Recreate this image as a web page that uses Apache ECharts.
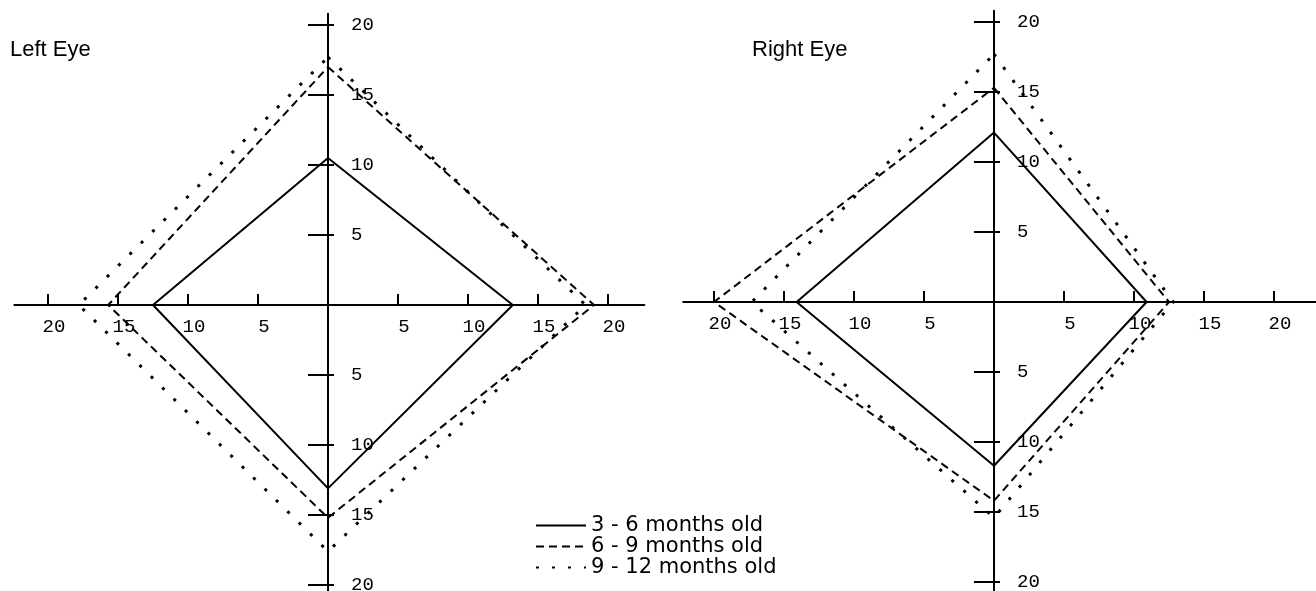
<!DOCTYPE html>
<html>
<head>
<meta charset="utf-8">
<script src="https://cdn.jsdelivr.net/npm/echarts@6/dist/echarts.min.js"></script>
<style>
  html, body { margin: 0; padding: 0; background: #fff; }
  #chart { width: 1316px; height: 591px; }
</style>
</head>
<body>
<div id="chart"></div>
<script>
// Extent of the visual field along each meridian: [up, right, down, left]
const ageGroups = ['3 - 6 months old', '6 - 9 months old', '9 - 12 months old'];
const leftEye36 = [10.5, 13.2, 13.1, 12.5];
const leftEye69 = [17.0, 19.0, 15.2, 15.7];
const leftEye912 = [17.7, 18.4, 17.6, 17.8];
const rightEye36 = [12.1, 10.9, 11.7, 14.1];
const rightEye69 = [15.3, 12.5, 14.2, 20.0];
const rightEye912 = [17.7, 12.8, 15.4, 17.3];
const panelTitles = ['Left Eye', 'Right Eye'];
const tickValues = [-20, -15, -10, -5, 5, 10, 15, 20];

const lineTypes = ['solid', [8, 5], [3, 13]];
const lineWidths = [2, 2, 3];
const monoFont = 'Liberation Mono';
const sansFont = 'Liberation Sans';
const PX = 14; // pixels per unit on both axes

// Closed diamond through the four meridian extents
function diamond(v) {
  return [[0, v[0]], [v[1], 0], [0, -v[2]], [-v[3], 0], [0, v[0]]];
}

// Each panel: origin in pixels and the axis extents in units
const panelLayout = [
  { cx: 328, cy: 305, x: [-22.4, 22.6], y: [-20.8, 20.8] },
  { cx: 994, cy: 302, x: [-22.2, 23.0], y: [-20.8, 20.8] }
];

const grids = panelLayout.map(p => ({
  left: p.cx + p.x[0] * PX,
  top: p.cy - p.y[1] * PX,
  width: (p.x[1] - p.x[0]) * PX,
  height: (p.y[1] - p.y[0]) * PX,
  containLabel: false,
  outerBoundsMode: 'none'
}));

// Axes are shifted from the grid edges onto the origin lines
const xAxes = panelLayout.map((p, i) => ({
  type: 'value', gridIndex: i, min: p.x[0], max: p.x[1],
  position: 'bottom', offset: p.y[0] * PX,
  splitLine: { show: false },
  axisLine: { show: true, onZero: false, lineStyle: { color: '#000', width: 2 } },
  axisTick: { show: true, inside: true, length: 11, customValues: tickValues,
              lineStyle: { color: '#000', width: 2 } },
  axisLabel: { show: true, customValues: tickValues, margin: 12,
               padding: [0, 0, 0, 12],
               formatter: v => String(Math.abs(v)),
               fontFamily: monoFont, fontSize: 19, color: '#000' }
}));

const yAxes = [];
panelLayout.forEach((p, i) => {
  // main axis: line, labels and the left part of each tick
  yAxes.push({
    type: 'value', gridIndex: i, min: p.y[0], max: p.y[1],
    position: 'left', offset: p.x[0] * PX,
    splitLine: { show: false },
    axisLine: { show: true, onZero: false, lineStyle: { color: '#000', width: 2 } },
    axisTick: { show: true, length: 20, customValues: tickValues,
                lineStyle: { color: '#000', width: 2 } },
    axisLabel: { show: true, inside: true, margin: 23, customValues: tickValues,
                 formatter: v => String(Math.abs(v)),
                 fontFamily: monoFont, fontSize: 19, color: '#000' }
  });
  // companion axis: short right part of each tick
  yAxes.push({
    type: 'value', gridIndex: i, min: p.y[0], max: p.y[1],
    position: 'left', offset: p.x[0] * PX,
    splitLine: { show: false },
    axisLine: { show: false, onZero: false },
    axisTick: { show: true, inside: true, length: 6, customValues: tickValues,
                lineStyle: { color: '#000', width: 2 } },
    axisLabel: { show: false }
  });
});

const panels = [
  [leftEye36, leftEye69, leftEye912],
  [rightEye36, rightEye69, rightEye912]
];

const series = [];
panels.forEach((sets, p) => {
  sets.forEach((vals, k) => {
    series.push({
      name: ageGroups[k], type: 'line',
      xAxisIndex: p, yAxisIndex: p * 2,
      data: diamond(vals),
      symbol: 'none', clip: false, silent: true, animation: false,
      lineStyle: { color: '#000', width: lineWidths[k], type: lineTypes[k] },
      itemStyle: { color: '#000' }
    });
  });
});

const chart = echarts.init(document.getElementById('chart'), null, { renderer: 'canvas' });
chart.setOption({
  backgroundColor: '#fff',
  animation: false,
  title: [
    { text: panelTitles[0], left: 5, top: 34,
      textStyle: { fontFamily: sansFont, fontSize: 22, fontWeight: 'normal', color: '#000' } },
    { text: panelTitles[1], left: 747, top: 34,
      textStyle: { fontFamily: sansFont, fontSize: 22, fontWeight: 'normal', color: '#000' } }
  ],
  legend: {
    data: ageGroups, orient: 'vertical', left: 535, top: 515,
    padding: 0, itemWidth: 50, itemHeight: 14, itemGap: 0,
    selectedMode: false,
    itemStyle: { opacity: 0 },
    lineStyle: { width: 2 },
    textStyle: { fontFamily: 'DejaVu Sans', fontSize: 21, lineHeight: 20, color: '#000' }
  },
  grid: grids,
  xAxis: xAxes,
  yAxis: yAxes,
  series: series
});
</script>
</body>
</html>
